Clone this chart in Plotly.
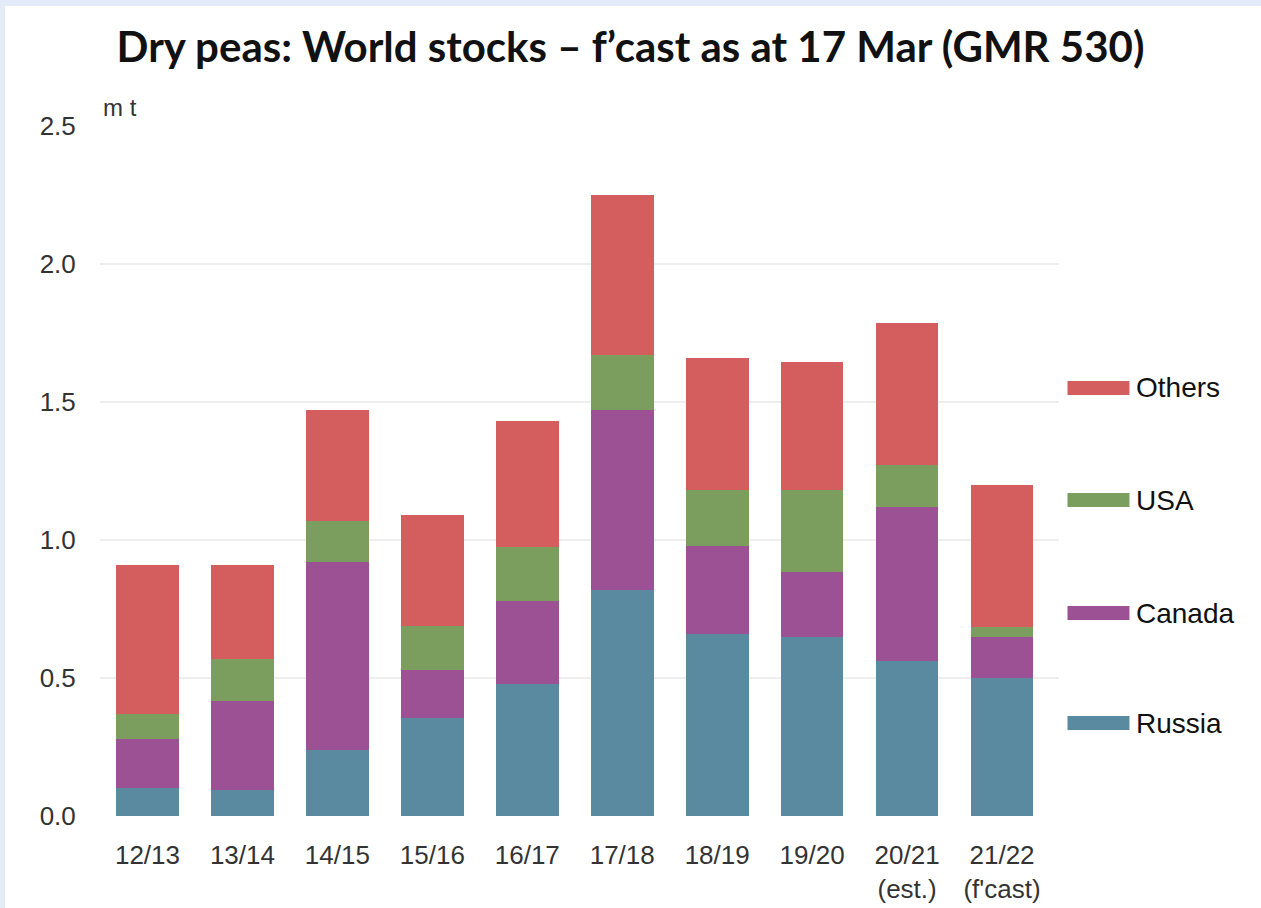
import plotly.graph_objects as go

# ---- data ----
seasons = ["12/13", "13/14", "14/15", "15/16", "16/17", "17/18", "18/19", "19/20", "20/21", "21/22"]
tick_text = ["12/13", "13/14", "14/15", "15/16", "16/17", "17/18", "18/19", "19/20",
             "20/21<br>(est.)", "21/22<br>(f'cast)"]
russia = [0.10, 0.095, 0.24, 0.355, 0.48, 0.82, 0.66, 0.65, 0.56, 0.50]
canada = [0.18, 0.32, 0.68, 0.175, 0.30, 0.65, 0.32, 0.235, 0.56, 0.15]
usa    = [0.09, 0.155, 0.15, 0.16, 0.195, 0.20, 0.20, 0.295, 0.15, 0.035]
others = [0.54, 0.34, 0.40, 0.40, 0.455, 0.58, 0.48, 0.465, 0.515, 0.515]

series_names = ["Russia", "Canada", "USA", "Others"]
series_vals = [russia, canada, usa, others]
colors = {"Russia": "#5a8a9f", "Canada": "#9b5194", "USA": "#7b9d5d", "Others": "#d45d5e"}

W, H = 1261, 908
L, R, T, B = 100, 201.5, 126, 92
PW, PH = W - L - R, H - T - B


def px(x):
    return (x - L) / PW


def py(y):
    return (H - B - y) / PH


fig = go.Figure()
for name, vals in zip(series_names, series_vals):
    fig.add_trace(go.Bar(x=seasons, y=vals, name=name, marker_color=colors[name],
                         marker_line_width=0, width=0.66, showlegend=False))

fig.update_layout(
    barmode="stack",
    width=W, height=H,
    margin=dict(l=L, r=R, t=T, b=B, pad=0, autoexpand=False),
    paper_bgcolor="#e2ebf7",
    plot_bgcolor="rgba(0,0,0,0)",
    font=dict(family="Arial, Liberation Sans, sans-serif", color="#333333"),
    title=dict(text="<b>Dry peas: World stocks \u2013 f\u2019cast as at 17 Mar (GMR 530)</b>",
               x=0.5, xref="container", xanchor="center",
               y=1 - 47 / H, yanchor="middle", yref="container",
               font=dict(family="Lato, Open Sans, sans-serif", size=42, color="#111111")),
    xaxis=dict(tickmode="array", tickvals=seasons, ticktext=tick_text, automargin=False,
               range=[-0.5, 9.6], showgrid=False, zeroline=False, showline=False,
               ticks="outside", ticklen=16, tickcolor="rgba(0,0,0,0)",
               tickfont=dict(size=26, color="#333333")),
    yaxis=dict(range=[0, 2.5], tickvals=[0, 0.5, 1.0, 1.5, 2.0, 2.5], tickformat=".1f",
               automargin=False,
               showgrid=True, gridcolor="#eeeeee", gridwidth=2, zeroline=False, showline=False,
               ticks="outside", ticklen=18, tickcolor="rgba(0,0,0,0)",
               tickfont=dict(size=26, color="#333333")),
)

shapes = [
    dict(type="rect", xref="paper", yref="paper", x0=px(5), x1=px(W + 5), y0=py(H + 5), y1=py(6),
         fillcolor="white", line_width=0, layer="below"),
]
annotations = [
    dict(text="m t", xref="paper", yref="paper", x=px(101), y=py(108), xanchor="left",
         yanchor="middle", showarrow=False, font=dict(size=24, color="#333333")),
]

legend_y = {"Others": 388, "USA": 500, "Canada": 613, "Russia": 723}
for name in ["Others", "USA", "Canada", "Russia"]:
    yc = legend_y[name]
    shapes.append(dict(type="rect", xref="paper", yref="paper", x0=px(1068), x1=px(1130),
                       y0=py(yc + 7), y1=py(yc - 7), fillcolor=colors[name], line_width=0))
    annotations.append(dict(text=name, xref="paper", yref="paper", x=px(1135), y=py(yc),
                            xanchor="left", yanchor="middle", showarrow=False,
                            font=dict(size=28, color="#111111")))

fig.update_layout(shapes=shapes, annotations=annotations)
fig.write_html("out.html")
